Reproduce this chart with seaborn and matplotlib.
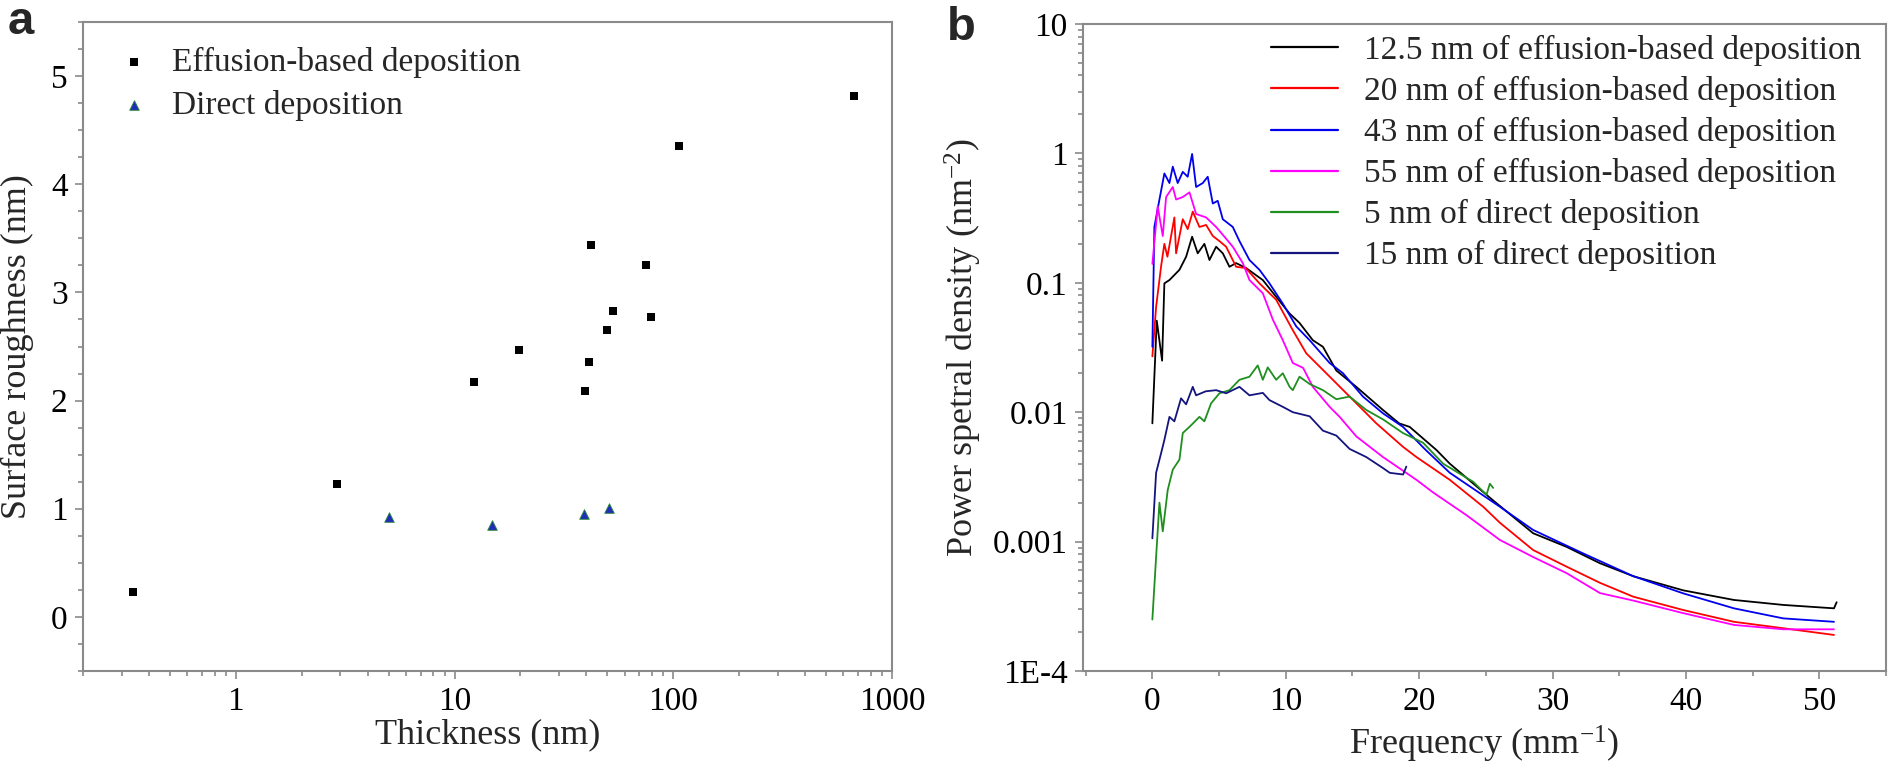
import numpy as np
import pandas as pd
import matplotlib
matplotlib.use("Agg")
import matplotlib.pyplot as plt
import seaborn as sns
from matplotlib.ticker import (FixedLocator, FixedFormatter, MultipleLocator,
                               LogLocator, NullFormatter)

# ---------------- data: panel a ----------------
eff_thickness = [0.34, 2.9, 12.3, 19.6, 39.5, 41, 42, 50, 53, 75, 79, 106, 670]
eff_roughness = [0.23, 1.23, 2.17, 2.47, 2.09, 2.36, 3.44, 2.65, 2.83, 3.25, 2.77, 4.35, 4.82]
dir_thickness = [5.0, 14.8, 39, 51]
dir_roughness = [0.92, 0.85, 0.95, 1.01]
a_labels = ["Effusion-based deposition", "Direct deposition"]
a_xticks = [1, 10, 100, 1000]
a_xticklabels = ["1", "10", "100", "1000"]

# ---------------- data: panel b ----------------
b_labels = ["12.5 nm of effusion-based deposition",
            "20 nm of effusion-based deposition",
            "43 nm of effusion-based deposition",
            "55 nm of effusion-based deposition",
            "5 nm of direct deposition",
            "15 nm of direct deposition"]

f_12p5 = [0.0, 0.33, 0.73, 0.9, 1.28, 2.03, 2.53, 2.98, 3.4, 3.9, 4.28, 4.78, 5.28, 5.78,
          6.28, 7.03, 8.28, 9.28, 10.28, 11.03, 12.03, 12.79, 13.79, 15.29, 17.29, 18.5,
          19.29, 21.3, 22.3, 25.5, 28.55, 31.06, 33.56, 36.06, 39.8, 43.6, 47.3, 51.1, 51.3]
psd_12p5 = [0.0082, 0.051, 0.025, 0.099, 0.105, 0.126, 0.159, 0.227, 0.169, 0.2, 0.15, 0.19,
            0.169, 0.133, 0.142, 0.13, 0.105, 0.078, 0.058, 0.049, 0.036, 0.032, 0.021,
            0.0157, 0.0104, 0.0082, 0.0077, 0.0051, 0.0040, 0.0021, 0.00116, 0.00091,
            0.00068, 0.00054, 0.00042, 0.000354, 0.000324, 0.000305, 0.00034]

f_20 = [0.0, 0.28, 0.65, 0.9, 1.13, 1.65, 1.78, 2.28, 2.65, 3.03, 3.53, 4.03, 4.53, 5.03,
        5.53, 6.28, 7.0, 8.03, 9.28, 10.53, 11.54, 13.04, 14.79, 16.79, 18.79, 19.8, 22.3,
        24.8, 26.05, 28.55, 31.06, 33.56, 36.06, 39.8, 43.6, 47.3, 51.1]
psd_20 = [0.027, 0.065, 0.133, 0.20, 0.159, 0.32, 0.169, 0.31, 0.26, 0.355, 0.27, 0.28,
          0.23, 0.21, 0.19, 0.133, 0.13, 0.099, 0.074, 0.043, 0.0285, 0.020, 0.0132,
          0.0082, 0.0054, 0.0045, 0.0030, 0.00186, 0.0014, 0.00086, 0.00064, 0.00048,
          0.000375, 0.000296, 0.00024, 0.000214, 0.00019]

f_43 = [0.0, 0.15, 0.53, 0.9, 1.28, 1.53, 1.9, 2.28, 2.65, 2.98, 3.28, 3.78, 4.15, 4.53,
        4.9, 5.28, 6.03, 6.53, 7.28, 8.03, 8.78, 9.78, 10.79, 11.79, 13.29, 14.29, 15.79,
        17.29, 18.79, 20.5, 22.3, 26.05, 28.55, 32.3, 36.06, 39.8, 43.6, 47.3, 51.1]
psd_43 = [0.032, 0.27, 0.44, 0.70, 0.59, 0.79, 0.59, 0.72, 0.66, 0.99, 0.55, 0.59, 0.66,
          0.41, 0.43, 0.31, 0.27, 0.21, 0.15, 0.126, 0.099, 0.069, 0.046, 0.036, 0.024,
          0.020, 0.0132, 0.0098, 0.0077, 0.0051, 0.0034, 0.00186, 0.00123, 0.00081,
          0.00054, 0.000398, 0.000305, 0.000255, 0.00024]

f_55 = [0.0, 0.4, 0.78, 1.03, 1.53, 1.78, 2.28, 2.78, 3.28, 4.03, 4.78, 5.28, 6.03, 6.78,
        7.28, 8.28, 9.03, 9.78, 10.53, 11.3, 12.03, 13.29, 14.04, 15.29, 17.29, 19.8,
        21.04, 23.55, 26.05, 28.55, 31.06, 33.56, 36.06, 39.8, 43.6, 47.3, 51.1]
psd_55 = [0.14, 0.39, 0.23, 0.46, 0.55, 0.44, 0.46, 0.50, 0.34, 0.32, 0.27, 0.235, 0.19,
          0.142, 0.105, 0.083, 0.052, 0.036, 0.024, 0.022, 0.0157, 0.011, 0.0092, 0.0065,
          0.0045, 0.0030, 0.0024, 0.0016, 0.00103, 0.00076, 0.00057, 0.00040, 0.00035,
          0.00028, 0.000227, 0.00021, 0.00021]

f_5d = [0.0, 0.28, 0.53, 0.78, 1.15, 1.53, 2.03, 2.28, 2.78, 3.53, 3.9, 4.4, 5.03, 5.78,
        6.53, 7.28, 7.9, 8.28, 8.65, 9.28, 9.78, 10.29, 10.53, 11.03, 11.8, 12.79, 13.79,
        14.79, 16.04, 17.29, 18.79, 20.3, 21.8, 24.05, 25.05, 25.3, 25.55]
psd_5d = [0.00025, 0.00076, 0.0020, 0.0012, 0.0025, 0.0036, 0.0043, 0.0069, 0.0077, 0.0092,
          0.0085, 0.0117, 0.014, 0.0148, 0.0178, 0.0188, 0.023, 0.0178, 0.0222, 0.0178,
          0.020, 0.0157, 0.0148, 0.0188, 0.0165, 0.0148, 0.0126, 0.0132, 0.0104, 0.0088,
          0.0069, 0.0058, 0.0040, 0.0029, 0.0023, 0.0028, 0.0026]

f_15d = [0.0, 0.28, 0.65, 0.9, 1.28, 1.65, 2.15, 2.53, 3.03, 3.28, 4.0, 4.78, 5.53, 6.53,
         7.28, 8.28, 8.78, 9.78, 10.53, 11.79, 12.79, 13.79, 14.79, 16.04, 17.29, 17.8,
         18.8, 19.04]
psd_15d = [0.00106, 0.0034, 0.0048, 0.0061, 0.0092, 0.0085, 0.0128, 0.0115, 0.0157, 0.0135,
           0.0145, 0.0148, 0.014, 0.0157, 0.0135, 0.0141, 0.0124, 0.0110, 0.0100, 0.0093,
           0.0072, 0.0066, 0.0052, 0.0045, 0.0037, 0.0034, 0.0033, 0.0038]

b_yticks = [1e-4, 1e-3, 1e-2, 1e-1, 1, 10]
b_yticklabels = ["1E-4", "0.001", "0.01", "0.1", "1", "10"]
b_xticks = [0, 10, 20, 30, 40, 50]

# ---------------- style ----------------
sns.set_theme(style="white")
plt.rcParams["font.family"] = ["Liberation Serif", "DejaVu Serif"]
plt.rcParams["mathtext.fontset"] = "custom"
plt.rcParams["mathtext.rm"] = "Liberation Serif"
plt.rcParams["mathtext.it"] = "Liberation Serif:italic"
plt.rcParams["mathtext.default"] = "regular"

W, H = 1890, 772
fig = plt.figure(figsize=(W / 100, H / 100), dpi=100)
ax1 = fig.add_axes([83 / W, (H - 671) / H, (892 - 83) / W, (671 - 22) / H])
ax2 = fig.add_axes([1083 / W, (H - 671) / H, (1886 - 1083) / W, (671 - 24) / H])

spine_col = "#8a8a8a"
TICK = 24
LAB = 26
LEG = 24

# ---------------- panel a ----------------
df_a = pd.DataFrame({
    "thickness": eff_thickness + dir_thickness,
    "roughness": eff_roughness + dir_roughness,
    "method": [a_labels[0]] * len(eff_thickness) + [a_labels[1]] * len(dir_thickness),
})
sns.scatterplot(data=df_a[df_a["method"] == a_labels[0]], x="thickness", y="roughness",
                color="black", marker="s", s=30, linewidth=0, label=a_labels[0], ax=ax1)
sns.scatterplot(data=df_a[df_a["method"] == a_labels[1]], x="thickness", y="roughness",
                color="#1f2db8", marker="^", s=48, linewidth=0.6, edgecolor="#2a8a3a",
                label=a_labels[1], ax=ax1)
ax1.set_xscale("log")
ax1.set_xlim(0.2, 1000)
ax1.set_ylim(-0.5, 5.5)
ax1.xaxis.set_major_locator(FixedLocator(a_xticks))
ax1.xaxis.set_major_formatter(FixedFormatter(a_xticklabels))
ax1.xaxis.set_minor_locator(LogLocator(base=10, subs=np.arange(2, 10)))
ax1.xaxis.set_minor_formatter(NullFormatter())
ax1.yaxis.set_major_locator(MultipleLocator(1))
ax1.yaxis.set_minor_locator(MultipleLocator(0.25))
ax1.set_xlabel("Thickness (nm)", fontsize=LAB)
ax1.set_ylabel("Surface roughness (nm)", fontsize=LAB)
ax1.xaxis.set_label_coords(0.5, (671 - 735) / 649)
ax1.xaxis.label.set_va("center")
ax1.yaxis.set_label_coords((17 - 83) / 809, 0.5)
ax1.yaxis.label.set_va("center")
ax1.legend(loc="upper left", bbox_to_anchor=(117 / W, 1 - 47 / H),
           bbox_transform=fig.transFigure, frameon=False,
           fontsize=LEG, handlelength=1.0, handletextpad=0.64,
           labelspacing=0.36, borderpad=0, borderaxespad=0)

# ---------------- panel b ----------------
series_f = [f_12p5, f_20, f_43, f_55, f_5d, f_15d]
series_p = [psd_12p5, psd_20, psd_43, psd_55, psd_5d, psd_15d]
rows = []
for lab, fx, py in zip(b_labels, series_f, series_p):
    rows.append(pd.DataFrame({"freq": fx, "psd": py, "series": lab}))
df_b = pd.concat(rows, ignore_index=True)
b_colors = {b_labels[0]: "#000000", b_labels[1]: "#ff0000", b_labels[2]: "#0000ee",
            b_labels[3]: "#ff00ff", b_labels[4]: "#1f8f1f", b_labels[5]: "#14147e"}
sns.lineplot(data=df_b, x="freq", y="psd", hue="series", hue_order=b_labels,
             palette=b_colors, estimator=None, sort=False, linewidth=1.3, ax=ax2)
ax2.set_yscale("log")
ax2.set_xlim(-5.2, 55)
ax2.set_ylim(1e-4, 10)
ax2.xaxis.set_major_locator(FixedLocator(b_xticks))
ax2.xaxis.set_minor_locator(MultipleLocator(5))
ax2.yaxis.set_major_locator(FixedLocator(b_yticks))
ax2.yaxis.set_major_formatter(FixedFormatter(b_yticklabels))
ax2.yaxis.set_minor_locator(LogLocator(base=10, subs=np.arange(2, 10)))
ax2.yaxis.set_minor_formatter(NullFormatter())
ax2.set_xlabel("Frequency (mm$^{-1}$)", fontsize=LAB)
ax2.set_ylabel("Power spetral density (nm$^{-2}$)", fontsize=LAB)
ax2.xaxis.set_label_coords(0.5, (671 - 744) / 647)
ax2.xaxis.label.set_va("center")
ax2.yaxis.set_label_coords((963 - 1083) / 803, 0.5)
ax2.yaxis.label.set_va("center")
sns.move_legend(ax2, "upper left", bbox_to_anchor=(1271 / W, 1 - 35 / H),
                bbox_transform=fig.transFigure, frameon=False, title=None,
                fontsize=LEG, handlelength=2.0, handletextpad=0.8,
                labelspacing=0.30, borderpad=0, borderaxespad=0)
for line in ax2.get_legend().get_lines():
    line.set_linewidth(1.6)

# ---------------- common axis styling ----------------
for ax in (ax1, ax2):
    for sp in ax.spines.values():
        sp.set_visible(True)
        sp.set_color(spine_col)
        sp.set_linewidth(1.5)
    ax.tick_params(which="both", direction="out", bottom=True, left=True,
                   top=False, right=False, color=spine_col, width=1.2,
                   labelcolor="black")
    ax.tick_params(which="major", length=6, labelsize=TICK, pad=5)
    ax.tick_params(which="minor", length=3.5)
    ax.grid(False)
    ax.set_facecolor("white")

fig.text(8 / W, 1 - 34 / H, "a", fontsize=34, fontweight="bold",
         family=["Liberation Sans", "DejaVu Sans"], va="baseline", ha="left")
fig.text(947 / W, 1 - 40 / H, "b", fontsize=34, fontweight="bold",
         family=["Liberation Sans", "DejaVu Sans"], va="baseline", ha="left")

fig.savefig("out.png", dpi=100, facecolor="white")
